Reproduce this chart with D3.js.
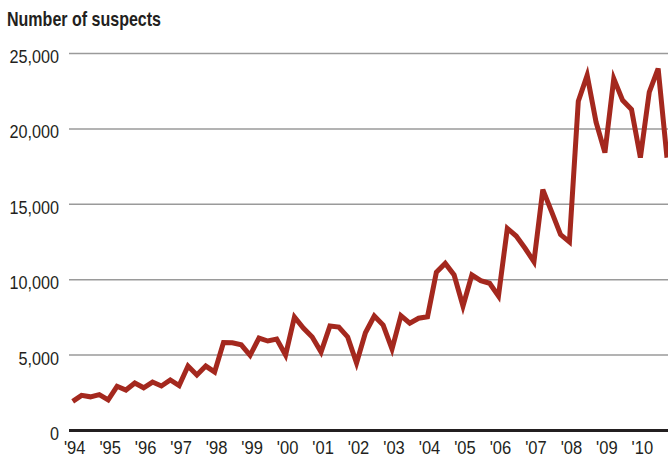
<!DOCTYPE html>
<html>
  <head>
    <title>Number of suspects</title>
    <script src="https://d3js.org/d3.v7.min.js"></script>
    <style>
      body { margin: 0; background: #fff; }
      svg text { font-family: "Liberation Sans", Arial, sans-serif; fill: #231f20; }
      .title { font-size: 21px; font-weight: bold; }
      .axis text { font-size: 18px; }
      .grid line { stroke: #9a9a9a; stroke-width: 1.5px; }
    </style>
  </head>
  <body>
    <svg width="668" height="461"></svg>

    <script>
      // quarterly counts, 1994 Q1 .. 2010 Q4
      const years = d3.range(1994, 2011);
      const suspects = [
        1900, 2300, 2200, 2350,   // 1994
        2000, 2900, 2650, 3120,   // 1995
        2800, 3180, 2920, 3320,   // 1996
        2950, 4240, 3650, 4240,   // 1997
        3850, 5800, 5780, 5650,   // 1998
        4950, 6100, 5900, 6030,   // 1999
        4970, 7490, 6760, 6170,   // 2000
        5170, 6900, 6830, 6170,   // 2001
        4440, 6450, 7560, 6960,   // 2002
        5370, 7580, 7080, 7410,   // 2003
        7510, 10460, 11050, 10280, // 2004
        8220, 10280, 9900, 9730,  // 2005
        8890, 13370, 12860, 12050, // 2006
        11160, 15940, 14460, 12960, // 2007
        12470, 21800, 23520, 20420, // 2008
        18390, 23300, 21860, 21250, // 2009
        18060, 22410, 23970, 18060  // 2010
      ];
      const yTicks = [0, 5000, 10000, 15000, 20000, 25000];

      const data = suspects.map((v, i) => ({ t: 1994 + i / 4, v: v }));

      const svg = d3.select("svg");
      const left = 69, right = 668;

      const x = d3.scaleLinear().domain([1994, 2010.75]).range([72.7, 667]);
      const y = d3.scaleLinear().domain([0, 25000]).range([430, 53]);

      svg.append("text")
        .attr("class", "title")
        .attr("x", 7)
        .attr("y", 26)
        .attr("textLength", 154)
        .attr("lengthAdjust", "spacingAndGlyphs")
        .text("Number of suspects");

      // gridlines + y labels
      const grid = svg.append("g")
        .attr("class", "grid axis")
        .attr("transform", `translate(${left},0)`)
        .call(d3.axisLeft(y).tickValues(yTicks).tickSize(-(right - left)).tickFormat(d3.format(",")));
      grid.select(".domain").remove();
      grid.selectAll(".tick text")
        .attr("dy", "0.75em")
        .attr("y", -4)
        .attr("x", -11)
        .attr("transform", "scale(0.9,1)");
      grid.selectAll(".tick")
        .filter(d => d === 0)
        .select("line")
        .style("stroke", "#231f20")
        .style("stroke-width", "3px");

      // x labels
      const xAxis = svg.append("g")
        .attr("class", "axis")
        .attr("transform", "translate(1.5,430)")
        .call(d3.axisBottom(x).tickValues(years).tickSize(0).tickPadding(11).tickFormat(d => "'" + String(d).slice(2)));
      xAxis.select(".domain").remove();
      xAxis.selectAll(".tick text").attr("transform", "scale(0.92,1)");

      const line = d3.line()
        .x(d => x(d.t))
        .y(d => y(d.v));

      svg.append("path")
        .datum(data)
        .attr("fill", "none")
        .attr("stroke", "#a4281e")
        .attr("stroke-width", 5)
        .attr("stroke-linejoin", "miter")
        .attr("d", line);
    </script>
  </body>
</html>
